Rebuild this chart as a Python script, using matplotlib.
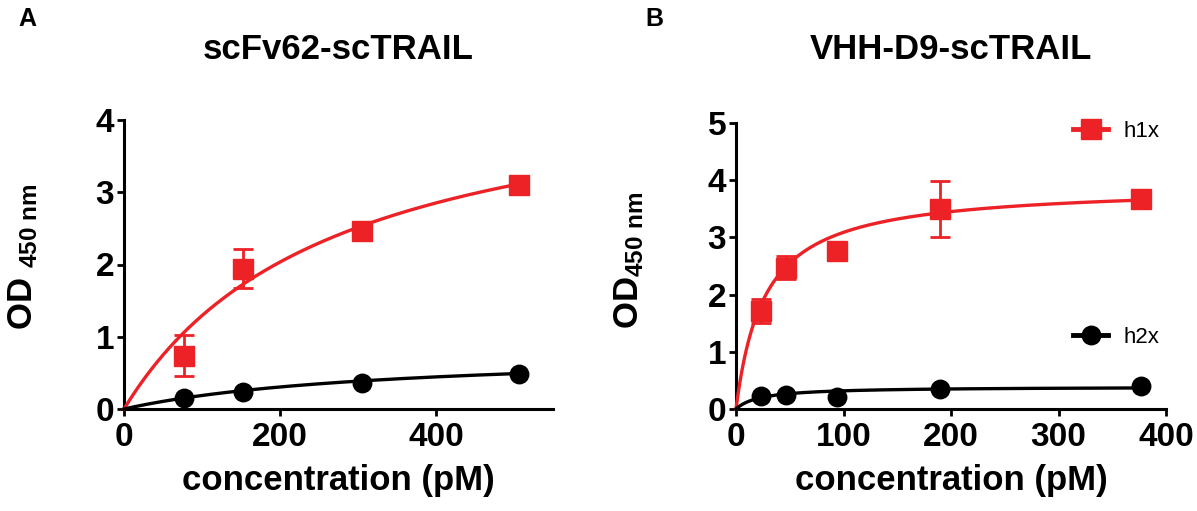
import numpy as np
import matplotlib
matplotlib.use("Agg")
import matplotlib.pyplot as plt
import matplotlib.transforms as mtransforms
from matplotlib.lines import Line2D

plt.rcParams['font.family'] = ['Liberation Sans', 'DejaVu Sans']
plt.rcParams['font.weight'] = 'bold'
plt.rcParams['mathtext.fontset'] = 'custom'
plt.rcParams['mathtext.rm'] = 'Liberation Sans:bold'
plt.rcParams['mathtext.it'] = 'Liberation Sans:bold:italic'
plt.rcParams['mathtext.bf'] = 'Liberation Sans:bold'
plt.rcParams['mathtext.default'] = 'rm'

RED = '#EC2227'
BLACK = '#000000'

# ---------------- data: panel A (scFv62-scTRAIL) ----------------
a_conc = [77, 153, 305, 507]
a_h1x = [0.74, 1.94, 2.46, 3.10]
a_h1x_err = [0.28, 0.27, 0.04, 0.04]
a_h2x = [0.15, 0.23, 0.36, 0.49]
# one-site binding fit parameters (Bmax, Kd)
a_h1x_fit = (4.77, 269.0)
a_h2x_fit = (0.82, 338.0)

# ---------------- data: panel B (VHH-D9-scTRAIL) ----------------
b_conc = [23.4, 46.9, 93.8, 190, 377]
b_h1x = [1.72, 2.47, 2.76, 3.49, 3.68]
b_h1x_err = [0.21, 0.20, 0.04, 0.49, 0.04]
b_h2x = [0.22, 0.25, 0.21, 0.35, 0.41]
b_h1x_fit = (3.91, 26.6)
b_h2x_fit = (0.39, 22.5)

a_xticks = [0, 200, 400]
a_yticks = [0, 1, 2, 3, 4]
b_xticks = [0, 100, 200, 300, 400]
b_yticks = [0, 1, 2, 3, 4, 5]

titles = ['scFv62-scTRAIL', 'VHH-D9-scTRAIL']
panel_letters = ['A', 'B']
series_labels = ['h1x', 'h2x']


def one_site(x, p):
    bmax, kd = p
    return bmax * x / (kd + x)


W, H = 1197, 511
fig = plt.figure(figsize=(W / 100, H / 100), dpi=100)


def px_axes(l, r, b, t):
    return fig.add_axes([l / W, 1 - b / H, (r - l) / W, (b - t) / H])


axA = px_axes(124, 553, 409, 120)
axB = px_axes(736, 1166, 409, 123)

MS = 14
LW = 2.4
TICK_FS = 24
LABEL_FS = 25
TITLE_FS = 25


def draw(ax, conc, h1, h1err, h2, f1, f2):
    conc = np.asarray(conc, float)
    xx = np.linspace(0, conc.max(), 400)
    ax.plot(xx, one_site(xx, f1), color=RED, lw=LW, zorder=3, clip_on=False)
    ax.plot(xx, one_site(xx, f2), color=BLACK, lw=LW, zorder=3, clip_on=False)
    ax.plot(conc, h1, ls='none', marker='s', ms=MS, color=RED, zorder=4, clip_on=False)
    ax.plot(conc, h2, ls='none', marker='o', ms=MS * 0.95, color=BLACK, zorder=4, clip_on=False)
    ax.errorbar(conc, h1, yerr=h1err, fmt='none', ecolor=RED, elinewidth=2,
                capsize=7, capthick=2, zorder=5, clip_on=False)


draw(axA, a_conc, a_h1x, a_h1x_err, a_h2x, a_h1x_fit, a_h2x_fit)
draw(axB, b_conc, b_h1x, b_h1x_err, b_h2x, b_h1x_fit, b_h2x_fit)

axA.set_xlim(0, 550)
axA.set_ylim(0, 4)
axA.set_xticks(a_xticks)
axA.set_yticks(a_yticks)
axB.set_xlim(0, 400)
axB.set_ylim(0, 5)
axB.set_xticks(b_xticks)
axB.set_yticks(b_yticks)

for ax in (axA, axB):
    for s in ('top', 'right'):
        ax.spines[s].set_visible(False)
    for s in ('left', 'bottom'):
        ax.spines[s].set_linewidth(2.2)
    ax.tick_params(axis='both', direction='out', length=5, width=2,
                   labelsize=TICK_FS)
    ax.tick_params(axis='x', pad=4)
    ax.tick_params(axis='y', pad=2)
    for lab in ax.get_xticklabels() + ax.get_yticklabels():
        lab.set_fontweight('bold')
    ax.set_xlabel('concentration (pM)', fontsize=LABEL_FS, fontweight='bold')

axA.xaxis.set_label_coords(0.5, -0.19)
axB.xaxis.set_label_coords(0.5, -0.192)

axA.set_ylabel(r'OD $_{450\ nm}$', fontsize=LABEL_FS, fontweight='bold')
axA.yaxis.set_label_coords(-0.196, 0.529)
axB.set_ylabel(r'OD$_{450\ nm}$', fontsize=LABEL_FS, fontweight='bold')
axB.yaxis.set_label_coords(-0.210, 0.521)

for ax, title in ((axA, titles[0]), (axB, titles[1])):
    tr = mtransforms.blended_transform_factory(ax.transAxes, fig.transFigure)
    ax.text(0.5, 1 - 59 / H, title, transform=tr, fontsize=TITLE_FS,
            fontweight='bold', ha='center', va='baseline')

fig.text(18 / W, 1 - 26 / H, panel_letters[0], fontsize=18, fontweight='bold', ha='left', va='baseline')
fig.text(645 / W, 1 - 26 / H, panel_letters[1], fontsize=18, fontweight='bold', ha='left', va='baseline')

h1 = Line2D([], [], color=RED, marker='s', ms=MS, lw=3.5)
h2 = Line2D([], [], color=BLACK, marker='o', ms=MS * 0.95, lw=3.5)
leg_kw = dict(loc='center left', frameon=False, borderpad=0, borderaxespad=0,
              handlelength=1.58, handletextpad=0.68,
              prop={'size': 16, 'weight': 'normal'})
leg1 = axB.legend([h1], [series_labels[0]],
                  bbox_to_anchor=((1073 - 736) / 430, (409 - 131) / 286), **leg_kw)
axB.add_artist(leg1)
axB.legend([h2], [series_labels[1]],
           bbox_to_anchor=((1073 - 736) / 430, (409 - 337) / 286), **leg_kw)

fig.savefig('out.png', dpi=100)
